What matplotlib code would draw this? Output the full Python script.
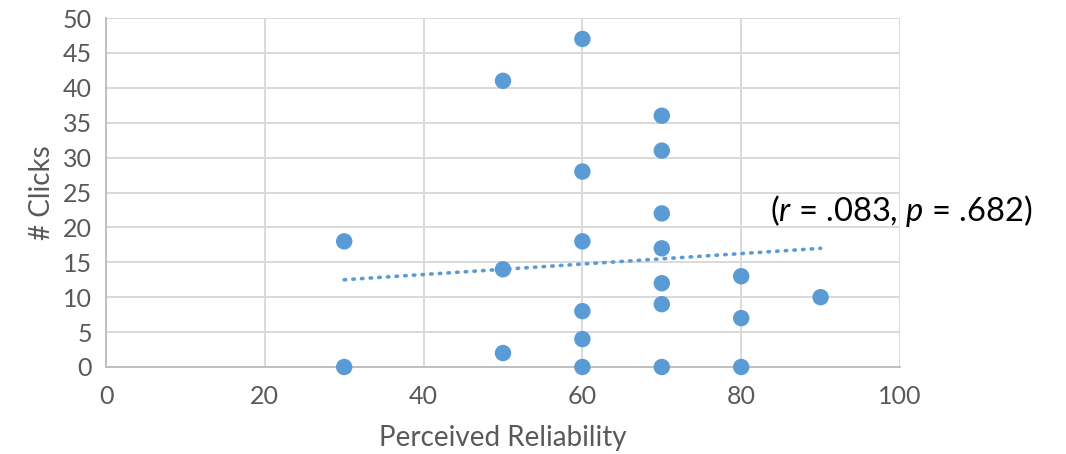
import matplotlib

matplotlib.use("Agg")
import matplotlib.pyplot as plt

# ------------------------------------------------------------------ data

reliability = [30, 30, 50, 50, 50, 60, 60, 60, 60, 60, 60,
               70, 70, 70, 70, 70, 70, 70, 80, 80, 80, 90]
clicks = [0, 18, 41, 14, 2, 47, 28, 18, 8, 4, 0,
          36, 31, 22, 17, 12, 9, 0, 13, 7, 0, 10]

trend_x = [30, 90]
trend_y = [12.5, 17.0]

x_ticks = [0, 20, 40, 60, 80, 100]
y_ticks = [0, 5, 10, 15, 20, 25, 30, 35, 40, 45, 50]

BLUE = "#5B9BD5"
GRID = "#D9D9D9"
TEXT = "#595959"

plt.rcParams["font.family"] = ["Lato", "DejaVu Sans"]
plt.rcParams["mathtext.fontset"] = "custom"
plt.rcParams["mathtext.it"] = "Lato:italic"
plt.rcParams["mathtext.rm"] = "Lato"

fig = plt.figure(figsize=(10.66, 4.54), dpi=100)
ax = fig.add_axes([106 / 1066, 1 - 367 / 454, 794 / 1066, 349 / 454])

ax.plot(trend_x, trend_y, color=BLUE, linewidth=2.6, linestyle=(0, (0.4, 2.0)),
        dash_capstyle="round", zorder=2)
ax.scatter(reliability, clicks, s=140, color=BLUE, edgecolors="none", zorder=3, clip_on=False)

ax.set_xlim(0, 100)
ax.set_ylim(0, 50)
ax.set_xticks(x_ticks)
ax.set_yticks(y_ticks)
ax.grid(True, color=GRID, linewidth=1.4)
ax.set_axisbelow(True)
for side in ("top", "right"):
    ax.spines[side].set_visible(False)
for side in ("left", "bottom"):
    ax.spines[side].set_color("#BFBFBF")
    ax.spines[side].set_linewidth(1.4)
ax.tick_params(length=0, labelsize=18, labelcolor=TEXT, pad=10)
ax.tick_params(axis="x", pad=13)

ax.set_xlabel("Perceived Reliability", fontsize=20, color=TEXT, labelpad=12)
ax.set_ylabel("# Clicks", fontsize=20, color=TEXT, labelpad=6)

fig.text(770 / 1066, 1 - 211 / 454, "($r$ = .083, $p$ = .682)", fontsize=23.5,
         color="black", ha="left", va="center")

fig.savefig("out.png", dpi=100)
